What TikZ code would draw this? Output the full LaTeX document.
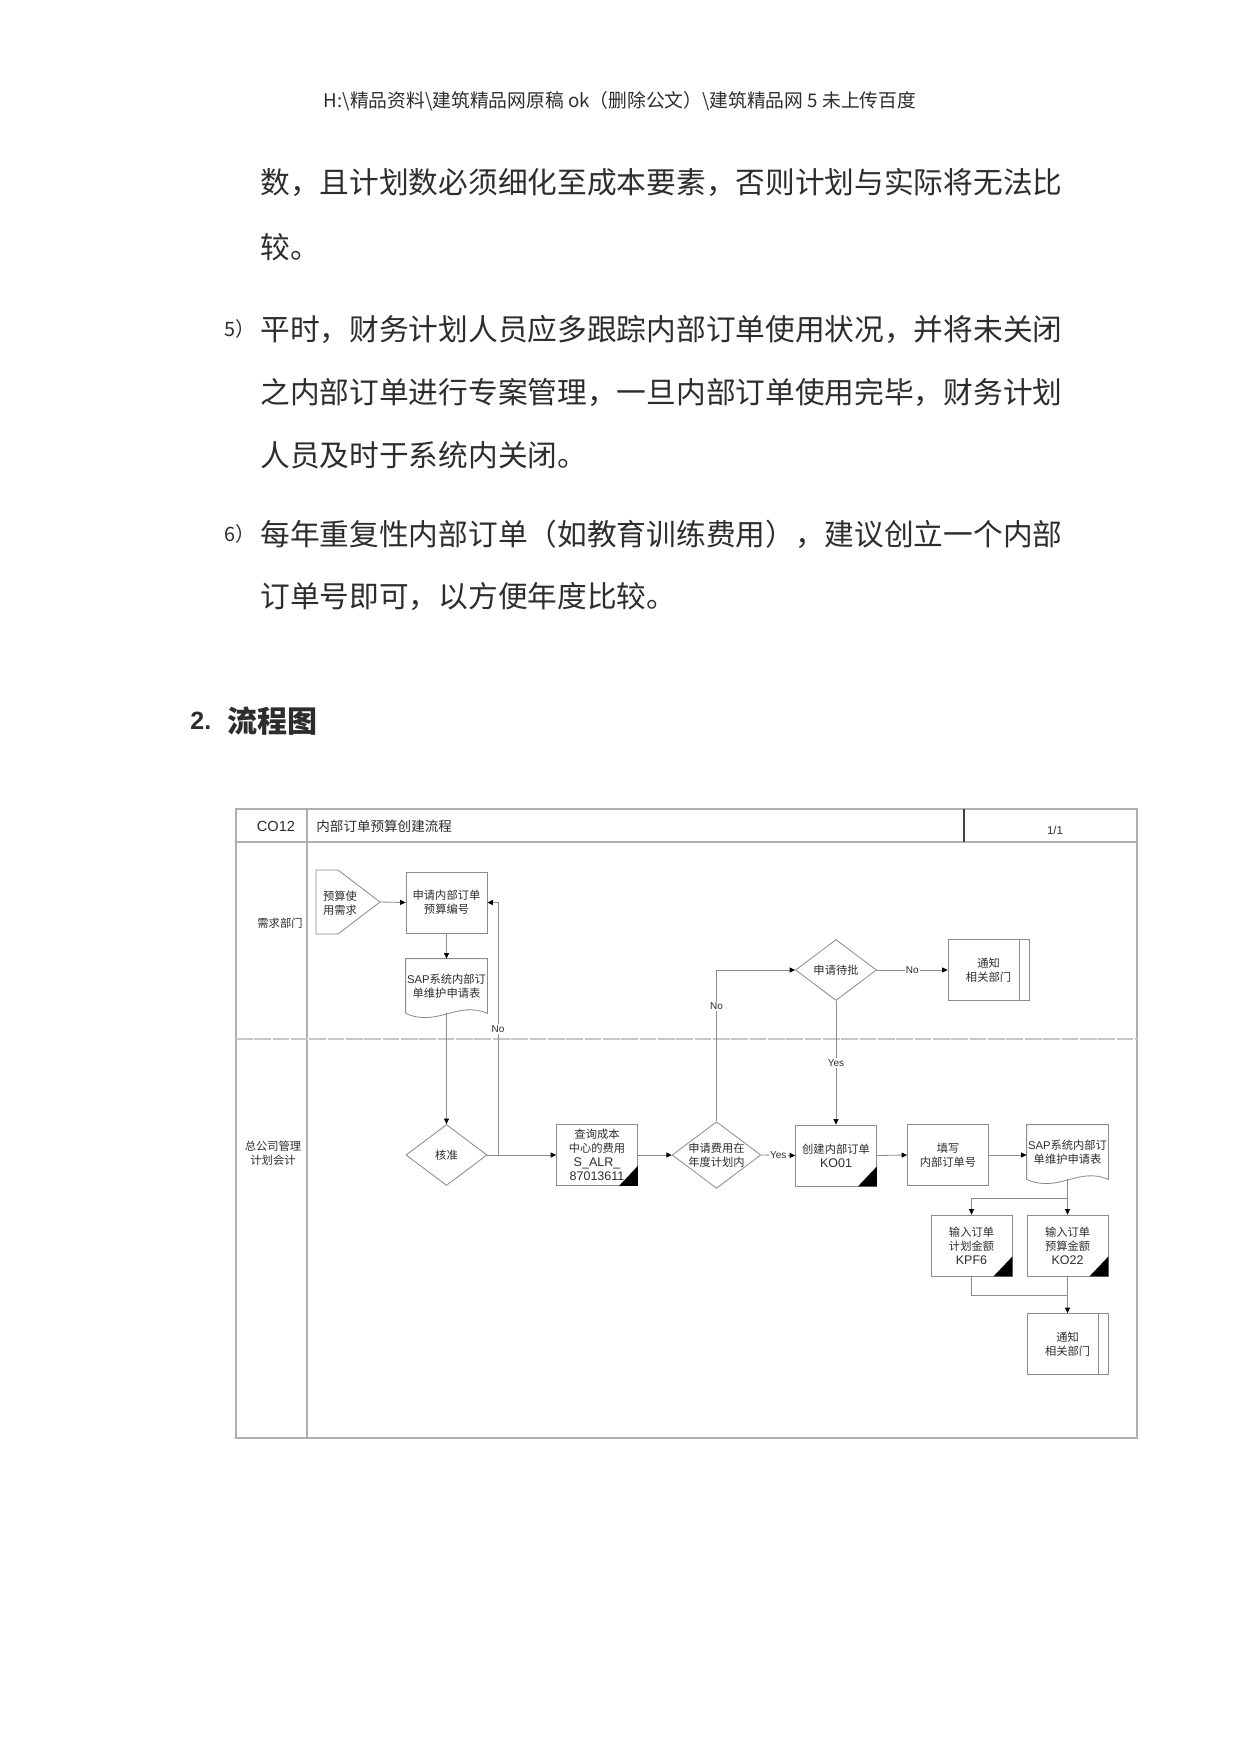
\documentclass[tikz,border=0pt]{standalone}
\usepackage{fontspec}
\setmainfont{Noto Sans CJK SC}
\newfontfamily\arial{Liberation Sans}
\usepackage{tikz}
\usetikzlibrary{arrows.meta,shapes.geometric}
\usepackage{xcolor}
\definecolor{linegray}{RGB}{140,140,140}
\definecolor{framegray}{RGB}{175,175,175}
\definecolor{inkgray}{RGB}{45,45,45}
\def\px{0.4797pt}
\newcommand\bodyfont{\fontsize{14.25pt}{17pt}\selectfont}
\newcommand\boxfont{\fontsize{5.4pt}{6.7pt}\selectfont}
\newcommand\tagfont{\fontsize{4.8pt}{5.5pt}\selectfont\arial}
\newcommand\codefont{\fontsize{6pt}{6.7pt}\selectfont\arial}
% black corner = transaction code
\newcommand\tcorner[1]{\fill[black] (#1.south east) -- ++(-19,0) -- ++(19,-20) -- cycle;}
% wavy bottom of a document
\newcommand\docedge[1]{\draw[linegray,line width=0.4pt] (#1.south west) -- (#1.north west) -- (#1.north east) -- (#1.south east) .. controls +(-30,-13) and +(32,14) .. (#1.south west);}
% notify box with side bar
\newcommand\sidebar[1]{\draw[linegray,line width=0.4pt] ([xshift=-10*\px]#1.north east) -- ([xshift=-10*\px]#1.south east);}

\begin{document}
\begin{tikzpicture}[x=\px, y=-\px,
    every node/.style={text=inkgray},
    procbox/.style={draw=linegray, line width=0.4pt, minimum width=81*\px, minimum height=61*\px, inner sep=0pt, align=center, font=\boxfont},
    docbox/.style={minimum width=81*\px, minimum height=54*\px, inner sep=0pt, align=center, font=\boxfont},
    choice/.style={diamond, draw=linegray, line width=0.4pt, minimum width=81*\px, minimum height=61*\px, inner sep=0pt, aspect=1.33, align=center, font=\boxfont},
    conn/.style={draw=linegray, line width=0.4pt},
    arr/.style={conn, -{Triangle[length=2.6pt,width=2.4pt,color=black]}},
    tag/.style={font=\tagfont, fill=white, inner sep=0.6pt},
    body/.style={font=\bodyfont, anchor=west, inner sep=0pt}]
  \useasboundingbox (0,0) rectangle (1241,1754);
  \fill[white] (0,0) rectangle (1241,1754);

  % page text
  \node[font=\fontsize{9pt}{10pt}\selectfont, inner sep=0pt] (path) at (620,101) {H:\textbackslash 精品资料\textbackslash 建筑精品网原稿 ok（删除公文）\textbackslash 建筑精品网 5 未上传百度};
  \node[body] (l1) at (260,183) {数，且计划数必须细化至成本要素，否则计划与实际将无法比};
  \node[body] (l2) at (260,247) {较。};
  \node[font=\fontsize{9.5pt}{10pt}\selectfont, anchor=west, inner sep=0pt] (n5) at (224,329) {5）};
  \node[body] (l3) at (260,329) {平时，财务计划人员应多跟踪内部订单使用状况，并将未关闭};
  \node[body] (l4) at (260,392) {之内部订单进行专案管理，一旦内部订单使用完毕，财务计划};
  \node[body] (l5) at (260,455) {人员及时于系统内关闭。};
  \node[font=\fontsize{9.5pt}{10pt}\selectfont, anchor=west, inner sep=0pt] (n6) at (224,534) {6）};
  \node[body] (l6) at (260,534) {每年重复性内部订单（如教育训练费用），建议创立一个内部};
  \node[body] (l7) at (260,597) {订单号即可，以方便年度比较。};
  \node[font=\fontsize{12pt}{14pt}\selectfont\arial\bfseries, anchor=west, inner sep=0pt] (sec) at (190,721) {2.};
  \node[font=\fontsize{14.4pt}{16pt}\selectfont\bfseries, anchor=west, inner sep=0pt] (sectitle) at (227,721) {流程图};

  % frame
  \draw[framegray, line width=0.5pt] (236,809) rectangle (1137,1438);
  \draw[framegray, line width=0.5pt] (236,842) -- (1137,842);
  \draw[framegray, line width=0.5pt] (307,809) -- (307,1438);
  \draw[black!75, line width=0.5pt] (964,809) -- (964,842);
  \draw[framegray!70, line width=0.5pt, dash pattern=on 8pt off 0.8pt] (236,1039) -- (1137,1039);
  \node[font=\fontsize{7pt}{8pt}\selectfont\arial] (code) at (276,826) {CO12};
  \node[font=\fontsize{6.5pt}{8pt}\selectfont, anchor=west, inner sep=0pt] (title) at (316,826) {内部订单预算创建流程};
  \node[font=\fontsize{5.5pt}{6pt}\selectfont\arial] (page) at (1055,830) {1/1};
  \node[font=\boxfont, align=center] (lane1) at (280,923) {需求部门};
  \node[font=\boxfont, align=center] (lane2) at (273,1153) {总公司管理\\计划会计};

  % 需求部门
  \draw[linegray, line width=0.4pt] (316,870) -- (338,870) -- (380,902) -- (338,934) -- (316,934) -- cycle;
  \node[font=\boxfont, align=center, inner sep=0pt] (need) at (340,903) {预算使\\用需求};
  \coordinate (needtip) at (380,902);
  \node[procbox] (apply) at (446.5,902.5) {申请内部订单\\预算编号};
  \node[docbox] (doc1) at (446.5,986) {{\arial SAP}系统内部订\\单维护申请表};
  \docedge{doc1}
  \node[choice] (pend) at (836,970) {申请待批};
  \node[procbox] (note1) at (988.5,970) {通知\\相关部门};

  % 总公司管理计划会计
  \node[choice] (approve) at (446.5,1155) {核准};
  \node[procbox] (query) at (597,1155) {查询成本\\中心的费用\\{\codefont S\_ALR\_}\\{\codefont 87013611}};
  \node[choice] (inplan) at (716.5,1155) {申请费用在\\年度计划内};
  \node[procbox] (ko01) at (836,1155.5) {创建内部订单\\{\codefont KO01}};
  \node[procbox] (fillno) at (948,1155) {填写\\内部订单号};
  \node[docbox] (doc2) at (1067.5,1152) {{\arial SAP}系统内部订\\单维护申请表};
  \docedge{doc2}
  \node[procbox] (kpf6) at (971.5,1245.5) {输入订单\\计划金额\\{\codefont KPF6}};
  \node[procbox] (ko22) at (1067.5,1245.5) {输入订单\\预算金额\\{\codefont KO22}};
  \node[procbox] (note2) at (1067.5,1344) {通知\\相关部门};
  \sidebar{note1}
  \sidebar{note2}
  \tcorner{query}
  \tcorner{ko01}
  \tcorner{kpf6}
  \tcorner{ko22}

  % connectors
  \coordinate (back) at (498,1155);
  \coordinate (split) at (1067.5,1198);
  \coordinate (merge) at (1067.5,1295);
  \draw[arr] (needtip) -- (apply.west);
  \draw[arr] (apply.south) -- (doc1.north);
  \draw[arr] (doc1.south) -- (approve.north);
  \draw[arr] (approve.east) -- (query.west);
  \draw[arr] (back) |- (apply.east) node[tag, pos=0.25] {No};
  \draw[arr] (query.east) -- (inplan.west);
  \draw[arr] (inplan.east) -- (ko01.west) node[tag, midway] {Yes};
  \draw[arr] (inplan.north) |- (pend.west) node[tag, pos=0.38] {No};
  \draw[arr] (pend.east) -- (note1.west) node[tag, midway] {No};
  \draw[arr] (pend.south) -- (ko01.north) node[tag, midway] {Yes};
  \draw[arr] (ko01.east) -- (fillno.west);
  \draw[arr] (fillno.east) -- (fillno.east -| doc2.west);
  \draw[conn] (doc2.south) -- (split);
  \draw[arr] (split) -| (kpf6.north);
  \draw[arr] (split) -- (ko22.north);
  \draw[conn] (kpf6.south) |- (merge);
  \draw[arr] (ko22.south) -- (note2.north);
\end{tikzpicture}
\end{document}
